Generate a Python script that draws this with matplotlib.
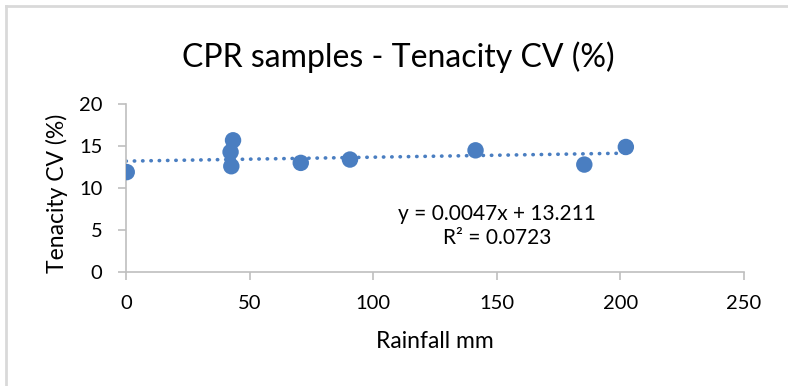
import numpy as np
import matplotlib.pyplot as plt
from matplotlib.lines import Line2D

# Rainfall (mm) vs tenacity CV (%) for the CPR samples
rainfall = [0.3, 43.3, 42.3, 42.6, 70.7, 90.6, 141.4, 185.4, 202.2]
tenacity_cv = [11.9, 15.7, 14.3, 12.6, 13.0, 13.4, 14.5, 12.8, 14.9]

# linear trendline coefficients
slope = 0.0047
intercept = 13.211
r_squared = 0.0723

x_ticks = [0, 50, 100, 150, 200, 250]
y_ticks = [0, 5, 10, 15, 20]

blue = '#4A7EC1'
axis_grey = '#BFBFBF'

plt.rcParams['font.family'] = ['Lato', 'DejaVu Sans']

W, H = 788, 386
fig = plt.figure(figsize=(W / 100, H / 100), dpi=100)
ax = fig.add_axes([126 / W, 1 - 271.7 / H, (744 - 126) / W, (271.7 - 104.3) / H])

# trendline from the fitted equation
trend_x = np.array([0, max(rainfall)])
ax.plot(trend_x, slope * trend_x + intercept, linestyle=(0, (0.1, 2.2)),
        dash_capstyle='round', linewidth=2.6, color=blue, zorder=2)

ax.scatter(rainfall, tenacity_cv, s=140, color=blue, edgecolors='none', zorder=3)

ax.set_xlim(0, 250)
ax.set_ylim(0, 20)
ax.set_xticks(x_ticks)
ax.set_yticks(y_ticks)
ax.tick_params(direction='out', length=6, width=1.2, color=axis_grey,
               labelsize=14.5)
ax.tick_params(axis='y', pad=11)
ax.tick_params(axis='x', pad=11)

for side in ['top', 'right']:
    ax.spines[side].set_visible(False)
for side in ['left', 'bottom']:
    ax.spines[side].set_color(axis_grey)
    ax.spines[side].set_linewidth(1.2)

fig.text(398 / W, 1 - 57 / H, 'CPR samples - Tenacity CV (%)', fontsize=23,
         ha='center', va='center')
fig.text(435 / W, 1 - 341 / H, 'Rainfall mm', fontsize=16.5,
         ha='center', va='center')
fig.text(57 / W, 1 - 193 / H, 'Tenacity CV (%)', fontsize=16.5,
         ha='center', va='center', rotation=90)

fig.text(497 / W, 1 - 226 / H, f'y = {slope}x + {intercept}\nR² = {r_squared}',
         ha='center', va='center', fontsize=15, linespacing=1.2)

# light grey frame around the chart area
fig.add_artist(Line2D([6 / W, 6 / W], [0, 1 - 6 / H], transform=fig.transFigure,
                      color='#D9D9D9', linewidth=2))
fig.add_artist(Line2D([6 / W, 1], [1 - 6 / H, 1 - 6 / H], transform=fig.transFigure,
                      color='#D9D9D9', linewidth=2))

fig.savefig('out.png', dpi=100)
